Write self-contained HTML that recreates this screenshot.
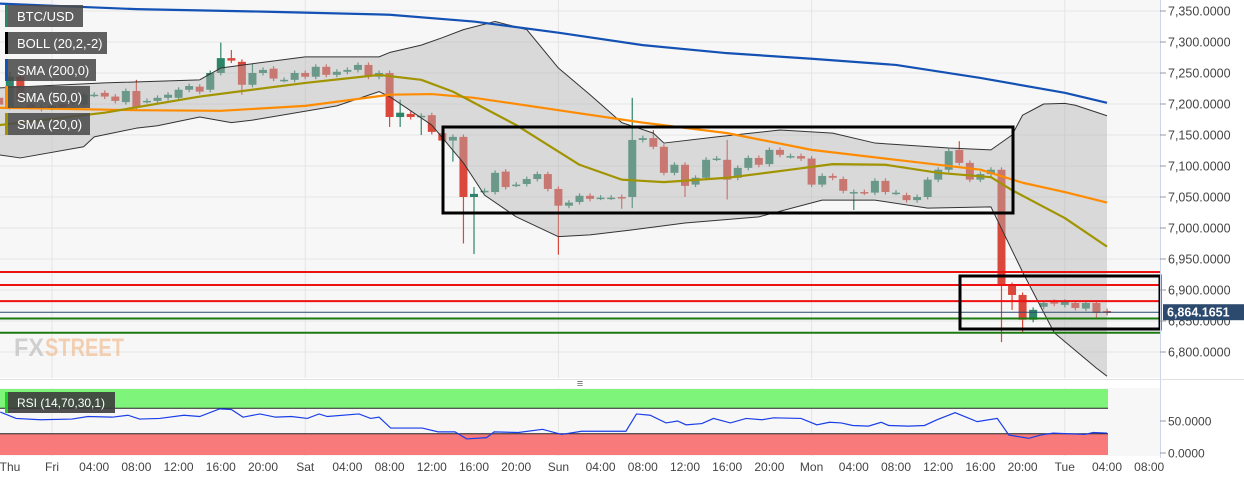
<!DOCTYPE html>
<html><head><meta charset="utf-8">
<style>
html,body{margin:0;padding:0;background:#fff;}
svg{display:block;font-family:"Liberation Sans",sans-serif;}
</style></head>
<body>
<svg id="chart" width="1244" height="480" viewBox="0 0 1244 480" xmlns="http://www.w3.org/2000/svg">
<rect x="0" y="0" width="1244" height="480" fill="#ffffff"/>
<rect x="0" y="0" width="1160" height="378" fill="#f7f7f7"/>
<rect x="0" y="388" width="1160" height="68" fill="#f7f7f7"/>
<g id="grid"></g>
<g id="candles"></g>
<g id="overlay"></g>
<g id="lines"></g>
<g id="levels"></g>
<g id="axis"></g>
<g id="rsi"></g>
<g font-size="25" font-weight="bold" opacity="0.55">
<text x="14" y="356" fill="#b0b0b0" textLength="30" lengthAdjust="spacingAndGlyphs">FX</text>
<text x="45" y="356" fill="#f0b07a" textLength="79" lengthAdjust="spacingAndGlyphs">STREET</text>
</g>
<g id="legend" font-size="13" fill="#fff"></g>
<text x="580" y="387" font-size="11" fill="#666" text-anchor="middle">≡</text>
</svg>
<script>
// ---- data ----
const hours = [];
for (let h = -5; h <= 100; h++) hours.push(h);
const opens = [7210,7195,7244,7199,7195,7194,7200,7202,7199,7215,
7218,7212,7203,7221,7205,7205,7210,7210,7223,7228,
7223,7250,7274,7268,7231,7250,7257,7239,7239,7250,
7244,7260,7247,7252,7255,7263,7244,7250,7179,7184,
7181,7182,7153,7141,7147,7050,7060,7058,7091,7070,
7071,7079,7087,7063,7036,7042,7052,7049,7049,7050,
7050,7142,7145,7131,7089,7102,7070,7081,7112,7110,
7081,7097,7113,7103,7126,7116,7116,7112,7070,7084,
7079,7058,7058,7057,7076,7057,7053,7045,7050,7078,
7094,7126,7105,7078,7087,7094,6908,6892,6852,6873,
6881,6876,6879,6870,6879,6866];
const closes = [7199,7244,7207,7195,7192,7197,7195,7205,7215,7215,
7212,7205,7221,7195,7205,7210,7215,7223,7229,7220,
7250,7274,7270,7231,7250,7255,7241,7239,7250,7244,
7260,7247,7252,7255,7263,7244,7250,7179,7186,7179,
7181,7155,7141,7147,7050,7055,7060,7089,7066,7070,
7079,7087,7063,7036,7041,7052,7047,7049,7049,7048,
7142,7145,7131,7089,7102,7068,7081,7110,7112,7078,
7097,7113,7102,7126,7118,7116,7112,7070,7084,7081,
7060,7058,7057,7076,7058,7057,7045,7050,7078,7094,
7124,7105,7078,7087,7094,6908,6892,6852,6868,6879,
6878,6881,6871,6879,6863,6863];
const highs = [7214,7252,7248,7203,7199,7201,7204,7209,7219,7219,
7222,7216,7225,7239,7209,7214,7219,7227,7233,7232,
7254,7299,7287,7272,7265,7259,7261,7243,7254,7254,
7264,7264,7256,7259,7267,7267,7254,7254,7207,7188,
7185,7186,7157,7151,7151,7066,7064,7093,7095,7074,
7083,7091,7091,7067,7045,7056,7056,7053,7053,7054,
7210,7149,7158,7135,7106,7106,7085,7114,7116,7142,
7101,7117,7117,7130,7130,7120,7120,7116,7088,7088,
7083,7062,7062,7080,7080,7061,7057,7054,7082,7098,
7128,7140,7109,7091,7098,7098,6912,6896,6872,6883,
6885,6885,6883,6883,6883,6870];
const lows = [7195,7191,7203,7191,7188,7190,7191,7198,7195,7211,
7208,7201,7199,7191,7201,7201,7206,7206,7219,7216,
7219,7246,7266,7215,7227,7246,7237,7235,7235,7240,
7240,7243,7243,7248,7251,7240,7240,7163,7163,7175,
7150,7151,7137,7107,6975,6958,7056,7054,7062,7066,
7067,7075,7059,6957,7032,7038,7043,7045,7045,7031,
7032,7138,7127,7085,7085,7050,7066,7077,7108,7046,
7077,7093,7098,7099,7114,7112,7108,7066,7066,7077,
7056,7029,7053,7053,7054,7053,7041,7041,7046,7074,
7090,7101,7074,7074,7083,6816,6868,6832,6848,6869,
6874,6872,6867,6866,6854,6859];

const sma200Hours = [-5,8,20,32,40,48,56,64,72,80,88,96,100];
const sma200Vals  = [7362,7353,7349,7344,7333,7315,7295,7282,7273,7263,7242,7218,7202];
const sma50Hours = [-5,8,16,24,32,36,40,48,56,64,72,80,88,92,96,100];
const sma50Vals  = [7194,7190,7189,7197,7215,7216,7210,7190,7170,7153,7126,7110,7094,7073,7058,7041];
const sma20Hours = [-5,5,14,24,31,35,38,44,50,54,58,64,70,74,79,84,89,91,96,100];
const sma20Vals  = [7166,7186,7212,7234,7247,7239,7220,7166,7102,7078,7074,7081,7094,7103,7102,7089,7082,7061,7016,6970];
const upperHours = [-5,5,14,16,19,24,31,32,35,37,39,42,45,48,51,54,57,58,63,69,74,78,85,89,91,92,94,96,97,100];
const upperVals  = [7226,7234,7239,7258,7265,7276,7276,7283,7295,7307,7320,7333,7320,7258,7215,7170,7153,7137,7147,7158,7153,7137,7129,7126,7150,7182,7200,7201,7198,7181];
const lowerHours = [-5,-3,3,4,8,10,14,17,19,27,31,32,36,39,41,44,48,51,55,60,67,73,78,83,89,92,95,99,100];
const lowerVals  = [7118,7113,7131,7147,7161,7165,7179,7170,7174,7197,7220,7212,7166,7105,7053,7018,6986,6989,6997,7008,7018,7045,7045,7032,7034,6929,6831,6774,6761];

const resistLevels = [6929,6908,6882];
const supportLevels = [6854,6831];
const lastPrice = 6864.1651;

const priceTicks = [7350,7300,7250,7200,7150,7100,7050,7000,6950,6900,6850,6800];
const priceTickLabels = ["7,350.0000","7,300.0000","7,250.0000","7,200.0000","7,150.0000","7,100.0000","7,050.0000","7,000.0000","6,950.0000","6,900.0000","6,850.0000","6,800.0000"];
const timeTickHours = [-5,0,4,8,12,16,20,24,28,32,36,40,44,48,52,56,60,64,68,72,76,80,84,88,92,96,100,104];
const timeTickLabels = ["Thu","Fri","04:00","08:00","12:00","16:00","20:00","Sat","04:00","08:00","12:00","16:00","20:00","Sun","04:00","08:00","12:00","16:00","20:00","Mon","04:00","08:00","12:00","16:00","20:00","Tue","04:00","08:00"];
const dayHours = [0,24,48,72,96];

const rsiHours = [-4.9,-3.4,-1.1,1.9,3.4,5.7,7.2,8.3,10.2,12.5,14,15.9,17,18.1,19.7,21.2,22.7,24.2,25.3,26.1,29.1,30.2,31,32.1,35.1,36.6,38.2,39.3,41.2,41.9,44.2,46.5,48.3,50.2,54.4,55.4,56.7,58.2,59.3,60.1,61.6,62.7,64.3,65.8,67.3,68.4,71,72.5,73.7,74.8,75.9,77.4,78.6,79.3,81.2,82.7,83.9,85.6,87.7,89.6,90.7,92.6,93.7,94.9,97.9,98.7,100];
const rsiVals  = [64,54,52,53,57,56,59,53,54,59,57,69,68,56,61,56,57,54,61,57,61,54,56,39,39,33,33,22,24,33,32,37,29,34,34,61,59,47,50,44,46,54,47,54,52,55,54,44,48,47,43,42,48,43,42,43,52,63,49,54,28,23,28,31,29,32,31];
const rsiTicks = [50,0];
const rsiTickLabels = ["50.0000","0.0000"];

// ---- scales ----
const NS = "http://www.w3.org/2000/svg";
const xOf = h => 52 + 10.55 * h;
const yOf = p => 11 + (7350 - p) * 0.62;
const rY = v => 453 - v * 0.64;
function mk(tag, attrs, parent) {
  const e = document.createElementNS(NS, tag);
  for (const k in attrs) e.setAttribute(k, attrs[k]);
  parent.appendChild(e);
  return e;
}
const g = id => document.getElementById(id);

// grid
priceTicks.forEach(p => {
  const l = mk('line', {x1:0, x2:1160, y1:yOf(p), y2:yOf(p), stroke:'#e4e4e4', 'stroke-width':1}, g('grid'));
  
  
});
dayHours.forEach(h => {
  const l = mk('line', {x1:xOf(h), x2:xOf(h), y1:0, y2:378, stroke:'#e4e4e4', 'stroke-width':1}, g('grid'));
  
  
  const l2 = mk('line', {x1:xOf(h), x2:xOf(h), y1:388, y2:456, stroke:'#e4e4e4', 'stroke-width':1}, g('grid'));
  
  
});

// candles
hours.forEach((h, i) => {
  const o = opens[i], c = closes[i];
  const up = c >= o;
  const col = up ? '#2e8468' : '#d9483b';
  const x = xOf(h);
  const w = mk('line', {x1:x, x2:x, y1:yOf(highs[i]), y2:yOf(lows[i]), stroke:col, 'stroke-width':1.2}, g('candles'));
  
  
  const top = yOf(Math.max(o, c)), bot = yOf(Math.min(o, c));
  const b = mk('rect', {x:x-4, y:top, width:8, height:Math.max(1.5, bot-top), fill:col}, g('candles'));
  
  
});

// bollinger fill
function pts(hs, vs, fx, fy) { return hs.map((h, i) => [fx(h), fy(vs[i])]); }
const up = pts(upperHours, upperVals, xOf, yOf);
const lo = pts(lowerHours, lowerVals, xOf, yOf).reverse();
const d = 'M' + up.map(p => p.join(',')).join(' L') + ' L' + lo.map(p => p.join(',')).join(' L') + ' Z';
const bf = mk('path', {d:d, fill:'rgba(180,180,180,0.45)'}, g('overlay'));


function poly(hs, vs, col, wdt, name, fy) {
  const p = mk('polyline', {points: pts(hs, vs, xOf, fy || yOf).map(q => q.join(',')).join(' '), fill:'none', stroke:col, 'stroke-width':wdt, 'stroke-linejoin':'round'}, g('lines'));
  
  
  return p;
}
poly(upperHours, upperVals, '#333', 1, 'bollinger-upper');
poly(lowerHours, lowerVals, '#333', 1, 'bollinger-lower');
poly(sma200Hours, sma200Vals, '#1451b4', 2.2, 'sma-200-line');
poly(sma50Hours, sma50Vals, '#ff8c00', 2.2, 'sma-50-line');
poly(sma20Hours, sma20Vals, '#a19400', 2.2, 'sma-20-line');

// levels
resistLevels.forEach(p => {
  const l = mk('line', {x1:0, x2:1160, y1:yOf(p), y2:yOf(p), stroke:'#ee1111', 'stroke-width':2}, g('levels'));
  
  
});
supportLevels.forEach(p => {
  const l = mk('line', {x1:0, x2:1160, y1:yOf(p), y2:yOf(p), stroke:'#1c7a10', 'stroke-width':2}, g('levels'));
  
  
});
const lp = mk('line', {x1:0, x2:1160, y1:yOf(lastPrice), y2:yOf(lastPrice), stroke:'#2c4a6e', 'stroke-width':1}, g('levels'));


const r1 = mk('rect', {x:443, y:127, width:570, height:86, fill:'none', stroke:'#000', 'stroke-width':3}, g('levels'));


const r2 = mk('rect', {x:960, y:276, width:200, height:53, fill:'none', stroke:'#000', 'stroke-width':3}, g('levels'));



// axes
const ax = g('axis');
const al = mk('line', {x1:1160.5, x2:1160.5, y1:0, y2:458, stroke:'#ccd6eb', 'stroke-width':1}, ax);


const sep = mk('line', {x1:0, x2:1244, y1:379.5, y2:379.5, stroke:'#e0e0e0', 'stroke-width':1}, ax);


priceTicks.forEach((p, i) => {
  const t = mk('line', {x1:1160, x2:1166, y1:yOf(p), y2:yOf(p), stroke:'#999', 'stroke-width':1}, ax);
  
  
  const tx = mk('text', {x:1168, y:yOf(p)+4.5, 'font-size':12.5, fill:'#444'}, ax);
  tx.textContent = priceTickLabels[i];
  
  
});
timeTickHours.forEach((h, i) => {
  const tx = mk('text', {x: h === -5 ? 10 : xOf(h), y:471, 'font-size':12, fill:'#444', 'text-anchor':'middle'}, ax);
  tx.textContent = timeTickLabels[i];
  
  
});
const pb = mk('rect', {x:1163, y:yOf(lastPrice)-8, width:81, height:16, fill:'#2c4a6e'}, ax);


const pt = mk('text', {x:1167, y:yOf(lastPrice)+4.5, 'font-size':12.5, 'font-weight':'bold', fill:'#fff'}, ax);
pt.textContent = '6,864.1651';



// RSI
const rg = g('rsi');
const gz = mk('rect', {x:0, y:rY(100), width:1108, height:rY(70)-rY(100), fill:'#7ef57a'}, rg);


const rz = mk('rect', {x:0, y:rY(30), width:1108, height:rY(0)-rY(30)+2, fill:'#f87a7a'}, rg);


[70,30].forEach(v => {
  const l = mk('line', {x1:0, x2:1108, y1:rY(v), y2:rY(v), stroke:'#222', 'stroke-width':1}, rg);
  
  
});
const rl = mk('polyline', {points: pts(rsiHours, rsiVals, xOf, rY).map(q => q.join(',')).join(' '), fill:'none', stroke:'#1a3ee8', 'stroke-width':1.2}, rg);


rsiTicks.forEach((v, i) => {
  const t = mk('line', {x1:1160, x2:1166, y1:rY(v), y2:rY(v), stroke:'#999', 'stroke-width':1}, rg);
  
  
  const tx = mk('text', {x:1168, y:rY(v)+4.5, 'font-size':12, fill:'#444'}, rg);
  tx.textContent = rsiTickLabels[i];
  
  
});

// legend
const legendLabels = ['BTC/USD','BOLL (20,2,-2)','SMA (200,0)','SMA (50,0)','SMA (20,0)'];
const legendColors = ['#2e8468','#000000','#1451b4','#ff8c00','#a19400'];
const legendWidths = [78,102,91,85,85];
const lgEl = g('legend');
legendLabels.forEach((t, i) => {
  const y = 5 + i * 27;
  const bx = mk('rect', {x:5, y:y, width:legendWidths[i], height:22, fill:'rgba(75,75,75,0.88)'}, lgEl);
  
  
  const bar = mk('rect', {x:5, y:y, width:3, height:22, fill:legendColors[i]}, lgEl);
  
  
  const tx = mk('text', {x:17, y:y+16, fill:'#fff'}, lgEl);
  tx.textContent = t;
  
  
});
const rb = mk('rect', {x:5, y:392, width:110, height:21, fill:'rgba(60,60,60,0.9)'}, lgEl);


const rbar = mk('rect', {x:5, y:392, width:3, height:21, fill:'#22cc22'}, lgEl);


const rtx = mk('text', {x:17, y:407, 'font-size':12, fill:'#fff'}, lgEl);
rtx.textContent = 'RSI (14,70,30,1)';


</script>
</body></html>
